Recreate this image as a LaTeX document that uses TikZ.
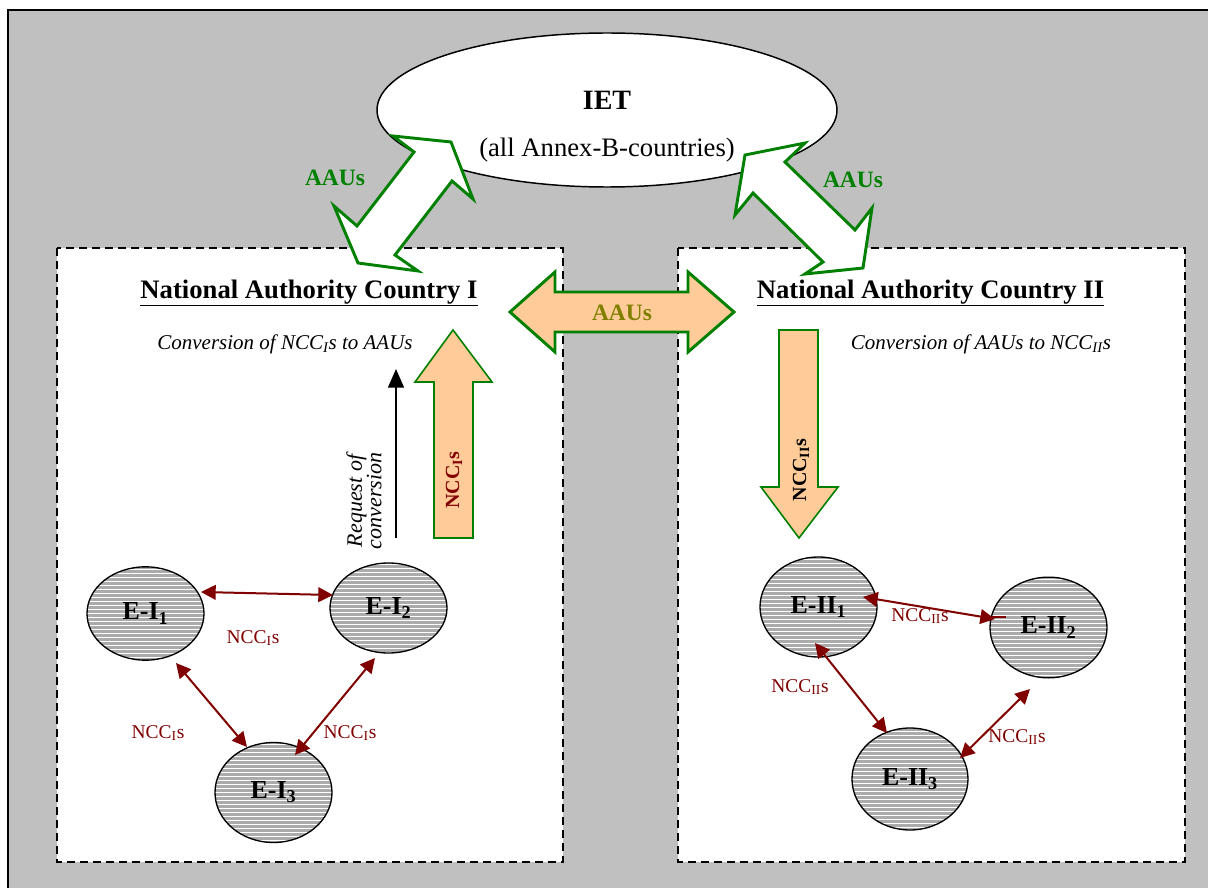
\documentclass[tikz,border=0pt]{standalone}
\usepackage{fontspec}
\setmainfont{Liberation Serif}
\usetikzlibrary{arrows.meta,shapes.geometric}
\definecolor{bggray}{HTML}{C0C0C0}
\definecolor{agreen}{HTML}{008000}
\definecolor{peach}{HTML}{FFCC99}
\definecolor{dred}{HTML}{800000}
\definecolor{olive}{HTML}{808000}
\newcommand{\fs}[1]{\fontsize{#1}{#1}\selectfont}
\tikzset{
  dbox/.style={draw=black, fill=white, line width=1.1pt, dash pattern=on 6pt off 3.75pt},
  entity/.style={ellipse, draw=black, line width=1pt, inner sep=0pt, fill=black!33,
    font=\fs{19.5pt}\bfseries,
    path picture={\foreach \k in {-25,...,25}{\draw[white, line width=0.55pt]
      ([yshift=\k*3pt]path picture bounding box.west) -- ([yshift=\k*3pt]path picture bounding box.east);}}},
  blockw/.style={draw=agreen, line width=2.2pt, fill=white, line join=miter},
  blockp/.style={draw=agreen, line width=2.2pt, fill=peach, line join=miter},
  blockv/.style={draw=agreen, line width=1.2pt, fill=peach, line join=miter},
  nccarrow/.style={dred, line width=1.5pt, {Triangle[length=11pt,width=11pt]}-{Triangle[length=11pt,width=11pt]}, shorten <=0pt, shorten >=0pt},
  ncclab/.style={text=dred, font=\fs{14.6pt}, inner sep=1pt},
  aaulab/.style={text=agreen, font=\fs{17.6pt}\bfseries, inner sep=1pt},
}
\begin{document}
\begin{tikzpicture}[x=0.75pt, y=-0.75pt]
\useasboundingbox (0,0) rectangle (1208,888);
\begin{scope}
\clip (0,0) rectangle (1208,888);
\draw[fill=bggray, draw=black, line width=1.6pt] (8,10) rectangle (1214,894);
\end{scope}

% dashed boxes
\draw[dbox] (57,248) rectangle (563,862);
\draw[dbox] (678,248) rectangle (1185,862);

% IET ellipse
\node[ellipse, draw=black, fill=white, line width=1.1pt, minimum width=345pt, minimum height=115.5pt, inner sep=0pt] (iet) at (607,110) {};
\node[font=\fs{21pt}\bfseries] (ietlab) at (607,100) {IET};
\node[font=\fs{20pt}] (ietsub) at (607,150) {(all Annex-B-countries)};

% diagonal double arrows
\draw[blockw] (451,142) -- (473,199) -- (452,181) -- (395,255) -- (418,271) -- (358,263)
  -- (334,206) -- (357,226) -- (414,152) -- (393,136) -- cycle;
\draw[blockw] (745,155) -- (805,143) -- (785,162) -- (855,230) -- (872,208) -- (863,268)
  -- (805,274) -- (823,262) -- (753,193) -- (735,215) -- cycle;
\node[aaulab] (aauL) at (335,178) {AAUs};
\node[aaulab, fill=bggray] (aauR) at (853,180) {AAUs};

% horizontal double arrow
\draw[blockp] (510,312) -- (555,272) -- (555,292) -- (688,292) -- (688,272) -- (734,312)
  -- (688,352) -- (688,332) -- (555,332) -- (555,352) -- cycle;
\node[text=olive, font=\fs{17.6pt}\bfseries] (aauM) at (622,313) {AAUs};

% titles
\node[font=\fs{20pt}\bfseries] (natI) at (309,293) {\underline{National Authority Country I}};
\node[font=\fs{20pt}\bfseries] (natII) at (930.5,293) {\underline{National Authority Country II}};
\node[font=\fs{15.75pt}\itshape] (convI) at (285,344) {Conversion of NCC\textsubscript{I}s to AAUs};
\node[font=\fs{15.75pt}\itshape] (convII) at (981,344) {Conversion of AAUs to NCC\textsubscript{II}s};

% vertical block arrows
\draw[blockv] (453,330) -- (492,382) -- (473,382) -- (473,538) -- (434,538) -- (434,382) -- (415,382) -- cycle;
\node[rotate=90, text=dred, font=\fs{15pt}\bfseries] (nccup) at (454,480) {NCC\textsubscript{I}s};
\draw[blockv] (779,330) -- (818,330) -- (818,487) -- (838,487) -- (799,538) -- (761,487) -- (779,487) -- cycle;
\node[rotate=90, font=\fs{15pt}\bfseries] (nccdown) at (801,470) {NCC\textsubscript{II}s};

% request arrow
\coordinate (rq0) at (396,538);
\coordinate (rq1) at (396,369);
\draw[black, line width=1.2pt, -{Triangle[length=14pt,width=12pt]}] (rq0) -- (rq1);
\node[rotate=90, font=\fs{16.5pt}\itshape, align=center, inner sep=0pt] (req) at (364,501) {Request of\\[-2pt]conversion};

% left entities
\node[entity, minimum width=87.75pt, minimum height=70pt] (e1) at (145.5,613.5) {E-I\textsubscript{1}};
\node[entity, minimum width=87.75pt, minimum height=67.5pt] (e2) at (388.5,608) {E-I\textsubscript{2}};
\node[entity, minimum width=87.75pt, minimum height=75pt] (e3) at (273.5,792.5) {E-I\textsubscript{3}};
\coordinate (a1) at (201,592); \coordinate (a2) at (333,595);
\coordinate (b1) at (176,663); \coordinate (b2) at (247,747);
\coordinate (c1) at (375,658); \coordinate (c2) at (295,755);
\draw[nccarrow] (a1) -- (a2);
\draw[nccarrow] (b1) -- (b2);
\draw[nccarrow] (c1) -- (c2);
\node[ncclab] (l1) at (253,638) {NCC\textsubscript{I}s};
\node[ncclab] (l2) at (158,733) {NCC\textsubscript{I}s};
\node[ncclab] (l3) at (350,733) {NCC\textsubscript{I}s};

% right entities
\node[entity, minimum width=87.75pt, minimum height=75pt] (f1) at (818.5,607) {E-II\textsubscript{1}};
\node[entity, minimum width=87.75pt, minimum height=75.5pt] (f2) at (1048.5,627.5) {E-II\textsubscript{2}};
\node[entity, minimum width=87pt, minimum height=76.5pt] (f3) at (910,779) {E-II\textsubscript{3}};
\coordinate (d1) at (863,597); \coordinate (d2) at (995,619);
\coordinate (g1) at (815,643); \coordinate (g2) at (887,733);
\coordinate (h1) at (1030,689); \coordinate (h2) at (960,758);
\draw[nccarrow] (d1) -- (d2);
\draw[dred, line width=1pt] (992,617) -- (1006,617);
\draw[nccarrow] (g1) -- (g2);
\draw[nccarrow] (h1) -- (h2);
\node[ncclab] (m1) at (920,616) {NCC\textsubscript{II}s};
\node[ncclab] (m2) at (800,687) {NCC\textsubscript{II}s};
\node[ncclab] (m3) at (1017,737) {NCC\textsubscript{II}s};
\end{tikzpicture}
\end{document}
